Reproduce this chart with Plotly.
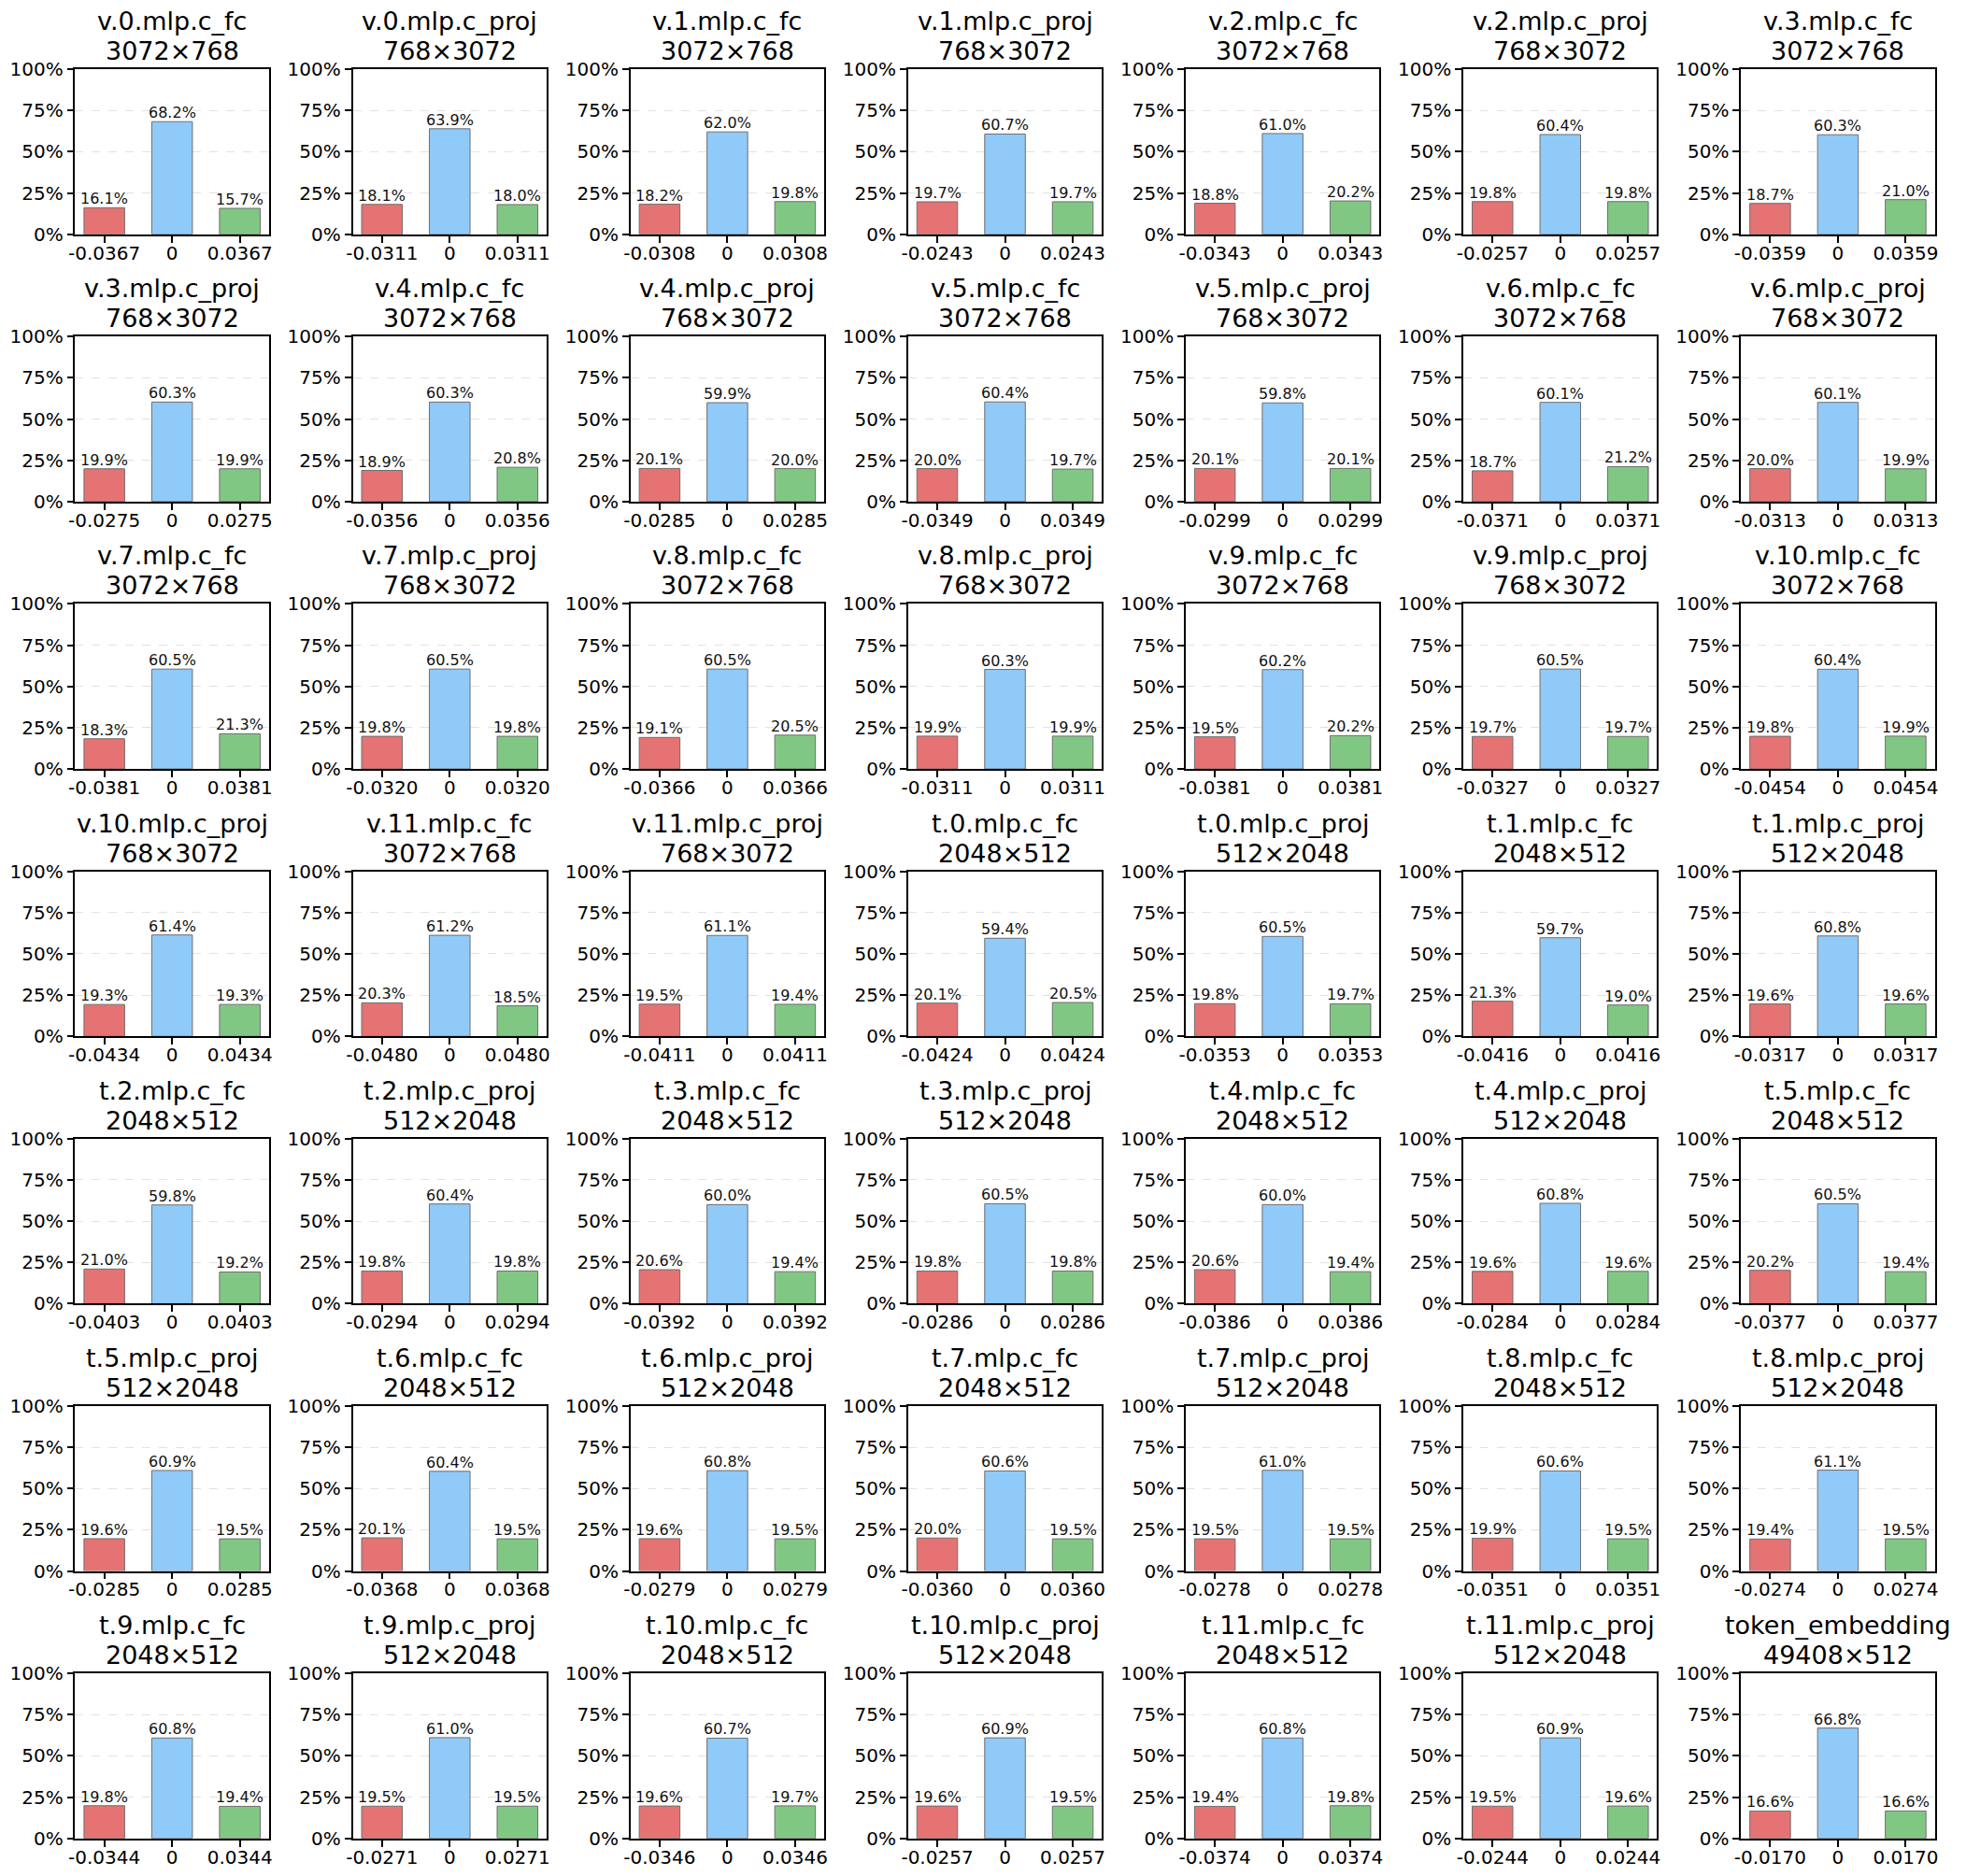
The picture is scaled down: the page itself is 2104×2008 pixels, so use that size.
import plotly.graph_objects as go

# layer names, weight shapes, share of weights per ternary bucket (%) and the threshold
names = [
    "v.0.mlp.c_fc", "v.0.mlp.c_proj", "v.1.mlp.c_fc", "v.1.mlp.c_proj", "v.2.mlp.c_fc", "v.2.mlp.c_proj", "v.3.mlp.c_fc",
    "v.3.mlp.c_proj", "v.4.mlp.c_fc", "v.4.mlp.c_proj", "v.5.mlp.c_fc", "v.5.mlp.c_proj", "v.6.mlp.c_fc", "v.6.mlp.c_proj",
    "v.7.mlp.c_fc", "v.7.mlp.c_proj", "v.8.mlp.c_fc", "v.8.mlp.c_proj", "v.9.mlp.c_fc", "v.9.mlp.c_proj", "v.10.mlp.c_fc",
    "v.10.mlp.c_proj", "v.11.mlp.c_fc", "v.11.mlp.c_proj", "t.0.mlp.c_fc", "t.0.mlp.c_proj", "t.1.mlp.c_fc", "t.1.mlp.c_proj",
    "t.2.mlp.c_fc", "t.2.mlp.c_proj", "t.3.mlp.c_fc", "t.3.mlp.c_proj", "t.4.mlp.c_fc", "t.4.mlp.c_proj", "t.5.mlp.c_fc",
    "t.5.mlp.c_proj", "t.6.mlp.c_fc", "t.6.mlp.c_proj", "t.7.mlp.c_fc", "t.7.mlp.c_proj", "t.8.mlp.c_fc", "t.8.mlp.c_proj",
    "t.9.mlp.c_fc", "t.9.mlp.c_proj", "t.10.mlp.c_fc", "t.10.mlp.c_proj", "t.11.mlp.c_fc", "t.11.mlp.c_proj", "token_embedding",
]
shapes = [
    "3072×768", "768×3072", "3072×768", "768×3072", "3072×768", "768×3072", "3072×768",
    "768×3072", "3072×768", "768×3072", "3072×768", "768×3072", "3072×768", "768×3072",
    "3072×768", "768×3072", "3072×768", "768×3072", "3072×768", "768×3072", "3072×768",
    "768×3072", "3072×768", "768×3072", "2048×512", "512×2048", "2048×512", "512×2048",
    "2048×512", "512×2048", "2048×512", "512×2048", "2048×512", "512×2048", "2048×512",
    "512×2048", "2048×512", "512×2048", "2048×512", "512×2048", "2048×512", "512×2048",
    "2048×512", "512×2048", "2048×512", "512×2048", "2048×512", "512×2048", "49408×512",
]
neg_pct = [
    16.1, 18.1, 18.2, 19.7, 18.8, 19.8, 18.7,
    19.9, 18.9, 20.1, 20.0, 20.1, 18.7, 20.0,
    18.3, 19.8, 19.1, 19.9, 19.5, 19.7, 19.8,
    19.3, 20.3, 19.5, 20.1, 19.8, 21.3, 19.6,
    21.0, 19.8, 20.6, 19.8, 20.6, 19.6, 20.2,
    19.6, 20.1, 19.6, 20.0, 19.5, 19.9, 19.4,
    19.8, 19.5, 19.6, 19.6, 19.4, 19.5, 16.6,
]
zero_pct = [
    68.2, 63.9, 62.0, 60.7, 61.0, 60.4, 60.3,
    60.3, 60.3, 59.9, 60.4, 59.8, 60.1, 60.1,
    60.5, 60.5, 60.5, 60.3, 60.2, 60.5, 60.4,
    61.4, 61.2, 61.1, 59.4, 60.5, 59.7, 60.8,
    59.8, 60.4, 60.0, 60.5, 60.0, 60.8, 60.5,
    60.9, 60.4, 60.8, 60.6, 61.0, 60.6, 61.1,
    60.8, 61.0, 60.7, 60.9, 60.8, 60.9, 66.8,
]
pos_pct = [
    15.7, 18.0, 19.8, 19.7, 20.2, 19.8, 21.0,
    19.9, 20.8, 20.0, 19.7, 20.1, 21.2, 19.9,
    21.3, 19.8, 20.5, 19.9, 20.2, 19.7, 19.9,
    19.3, 18.5, 19.4, 20.5, 19.7, 19.0, 19.6,
    19.2, 19.8, 19.4, 19.8, 19.4, 19.6, 19.4,
    19.5, 19.5, 19.5, 19.5, 19.5, 19.5, 19.5,
    19.4, 19.5, 19.7, 19.5, 19.8, 19.6, 16.6,
]
thresholds = [
    0.0367, 0.0311, 0.0308, 0.0243, 0.0343, 0.0257, 0.0359,
    0.0275, 0.0356, 0.0285, 0.0349, 0.0299, 0.0371, 0.0313,
    0.0381, 0.0320, 0.0366, 0.0311, 0.0381, 0.0327, 0.0454,
    0.0434, 0.0480, 0.0411, 0.0424, 0.0353, 0.0416, 0.0317,
    0.0403, 0.0294, 0.0392, 0.0286, 0.0386, 0.0284, 0.0377,
    0.0285, 0.0368, 0.0279, 0.0360, 0.0278, 0.0351, 0.0274,
    0.0344, 0.0271, 0.0346, 0.0257, 0.0374, 0.0244, 0.0170,
]
bar_colors = ["#e57373", "#90caf9", "#81c784"]

# page body keeps its 8px margin, so the figure is that much smaller than the window
PAGE_MARGIN = 8
W, H = 2104 - 2 * PAGE_MARGIN, 2008 - 2 * PAGE_MARGIN
FONT = "DejaVu Sans"

# grid geometry (px in page space), tuned against the rendered output
COL0, COL_STEP, AX_W = 73.8, 298.7, 208.5
ROW0, ROW_STEP, AX_H = 62.7, 289.8, 179.0

fig = go.Figure()
layout = {}
annotations = []

for i, name in enumerate(names):
    row, col = i // 7, i % 7
    k = "" if i == 0 else str(i + 1)
    left = COL0 + COL_STEP * col - PAGE_MARGIN
    top = ROW0 + ROW_STEP * row - PAGE_MARGIN
    x_dom = [left / W, (left + AX_W) / W]
    y_dom = [1 - (top + AX_H) / H, 1 - top / H]

    vals = [neg_pct[i], zero_pct[i], pos_pct[i]]
    t = thresholds[i]
    fig.add_trace(go.Bar(
        x=[0, 1, 2],
        y=vals,
        width=0.6,
        marker=dict(color=bar_colors, line=dict(color="#6e6e6e", width=1)),
        xaxis="x" + k,
        yaxis="y" + k,
        showlegend=False,
        hoverinfo="skip",
    ))

    for j, v in enumerate(vals):
        annotations.append(dict(
            x=j, y=v, xref="x" + k, yref="y" + k,
            text=f"{v:.1f}%", showarrow=False,
            yanchor="bottom", yshift=-2,
            font=dict(family=FONT, size=16, color="#111111"),
        ))

    # two title lines placed separately to keep matplotlib-like line spacing
    for line, shift in ((name, 34), (shapes[i], 2)):
        annotations.append(dict(
            x=0.5, y=1, xref=f"x{k} domain", yref=f"y{k} domain",
            text=line, showarrow=False,
            xanchor="center", yanchor="bottom", yshift=shift,
            font=dict(family=FONT, size=27, color="black"),
        ))

    layout["xaxis" + k] = dict(
        domain=x_dom, anchor="y" + k,
        range=[-0.43, 2.43], autorange=False,
        tickvals=[0, 1, 2],
        ticktext=[f"{-t:.4f}", "0", f"{t:.4f}"],
        ticks="outside", ticklen=7, tickwidth=1.6, tickcolor="black",
        ticklabelstandoff=-6,
        showline=True, mirror=True, linecolor="black", linewidth=1.6,
        showgrid=False, zeroline=False, fixedrange=True,
        tickfont=dict(family=FONT, size=20, color="black"),
    )
    layout["yaxis" + k] = dict(
        domain=y_dom, anchor="x" + k,
        range=[0, 100], autorange=False,
        tickvals=[0, 25, 50, 75, 100],
        ticktext=["0%", "25%", "50%", "75%", "100%"],
        ticks="outside", ticklen=7, tickwidth=1.6, tickcolor="black",
        showline=True, mirror=True, linecolor="black", linewidth=1.6,
        showgrid=True, gridcolor="#e2e2e2", griddash="dash", gridwidth=1,
        zeroline=False, fixedrange=True,
        tickfont=dict(family=FONT, size=20, color="black"),
    )

fig.update_layout(
    width=W,
    height=H,
    margin=dict(l=0, r=0, t=0, b=0),
    paper_bgcolor="white",
    plot_bgcolor="white",
    font=dict(family=FONT, color="black"),
    annotations=annotations,
    **layout,
)

fig.write_html("out.html")
